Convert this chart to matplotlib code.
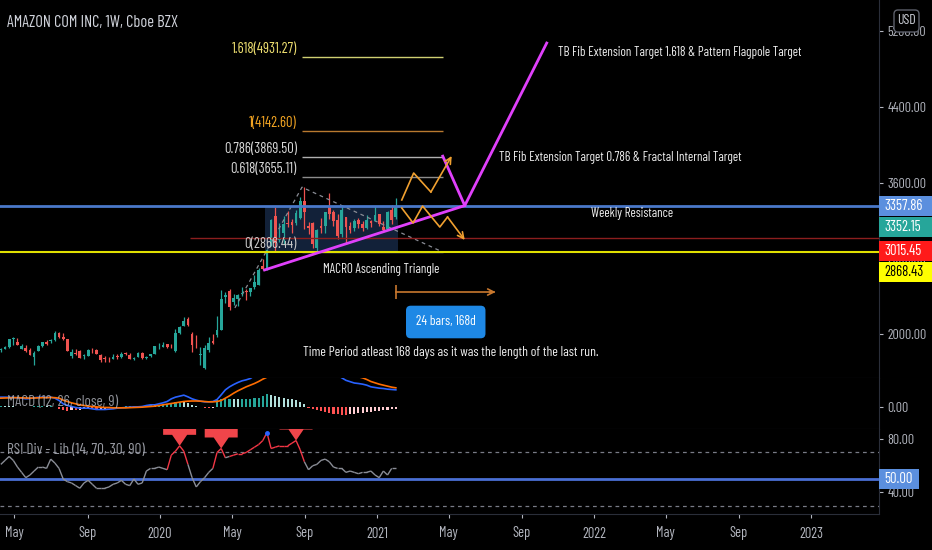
import numpy as np
import pandas as pd
import matplotlib
matplotlib.use('agg')
import matplotlib.pyplot as plt
import matplotlib.dates as mdates
from matplotlib.patches import Rectangle, Polygon, FancyBboxPatch
from matplotlib.collections import LineCollection
from matplotlib.transforms import IdentityTransform

plt.rcParams['font.family'] = ['Barlow Condensed', 'DejaVu Sans']

W, H = 932, 550
BG = '#000000'
SEP = '#2a2e39'
AXTXT = '#b2b5be'
UP = '#26a69a'
DOWN = '#ef5350'
FS = 9.4

# ---- weekly candles, AMZN, from week of 2019-04-08 ----
week_start = '2019-04-08'
opens = [1828, 1843, 1860, 1949, 1917, 1839, 1852, 1831, 1760, 1822, 1876, 1912, 1922, 1934, 2010, 1971, 1949, 1770, 1795, 1818,
         1767, 1770, 1842, 1835, 1777, 1746, 1733, 1736, 1765, 1762, 1801, 1778, 1738, 1753, 1804, 1750, 1767, 1793, 1874,
         1861, 1891, 1865, 1820, 2010, 2085, 2155, 2003, 1907, 1773, 1641, 1827, 1922, 1990, 2040, 2390, 2450, 2336, 2375, 2425,
         2455, 2448, 2500, 2515, 2722, 2685, 2935, 3251, 2998, 3063, 3173, 3187, 3173, 3229, 3409, 3144, 3172, 2907, 3144, 3145,
         3350, 3292, 3208, 3062, 3232, 3142, 3118, 3208, 3158, 3124, 3200, 3194,
         3270, 3128, 3107, 3310, 3242]
highs = [1850, 1870, 1951, 1964, 1959, 1892, 1885, 1849, 1820, 1884, 1918, 1935, 1951, 2035, 2024, 2010, 1952, 1839, 1843, 1833,
         1789, 1840, 1853, 1838, 1793, 1766, 1757, 1788, 1789, 1813, 1815, 1801, 1762, 1808, 1805, 1769, 1792, 1870, 1903,
         1917, 1898, 1895, 2055, 2085, 2180, 2185, 2017, 1993, 1863, 1879, 1968, 2001, 2187, 2461, 2444, 2475, 2420, 2420, 2500,
         2473, 2488, 2621, 2700, 2795, 2903, 3220, 3344, 3174, 3246, 3305, 3217, 3315, 3451, 3552, 3188, 3188, 3115, 3227, 3288,
         3496, 3306, 3264, 3367, 3233, 3189, 3216, 3228, 3190, 3263, 3210, 3351,
         3272, 3190, 3304, 3363, 3434]
lows = [1811, 1840, 1856, 1887, 1880, 1838, 1814, 1773, 1672, 1818, 1866, 1880, 1904, 1924, 1958, 1937, 1816, 1748, 1777, 1748,
        1739, 1768, 1803, 1785, 1705, 1705, 1705, 1733, 1740, 1743, 1782, 1738, 1722, 1753, 1738, 1734, 1761, 1791, 1843,
        1860, 1856, 1857, 1815, 2002, 2082, 2088, 1811, 1848, 1674, 1626, 1812, 1890, 1973, 2040, 2326, 2256, 2306, 2298, 2404,
        2356, 2401, 2475, 2515, 2680, 2680, 2930, 2871, 2970, 2951, 3127, 3073, 3150, 3218, 3110, 3061, 2905, 2871, 3071, 3070,
        3221, 3147, 3002, 3030, 2950, 3072, 3085, 3126, 3085, 3105, 3130, 3193,
        3144, 3086, 3107, 3159, 3220]
closes = [1843, 1861, 1950, 1962, 1889, 1870, 1823, 1775, 1804, 1870, 1911, 1893, 1942, 2011, 1965, 1943, 1823, 1807, 1792, 1749,
          1777, 1833, 1839, 1794, 1725, 1739, 1731, 1757, 1761, 1791, 1785, 1739, 1745, 1800, 1751, 1760, 1786, 1869, 1875,
          1883, 1864, 1861, 2008, 2079, 2134, 2095, 1883, 1902, 1785, 1847, 1900, 1906, 2042, 2375, 2410, 2286, 2380, 2409, 2436,
          2443, 2483, 2546, 2675, 2692, 2890, 3200, 2961, 3008, 3164, 3167, 3148, 3284, 3401, 3294, 3116, 2954, 3095, 3125, 3286,
          3272, 3195, 3036, 3312, 3128, 3099, 3195, 3162, 3116, 3202, 3172, 3257,
          3163, 3104, 3292, 3206, 3352]

# ---- MACD (12, 26, close, 9) ----
macd_line = [56, 56, 55, 54, 52, 50, 46, 48, 52, 55, 56, 54, 56, 50, 36, 16, 6, 0, -6, -10,
             -10, -10, -14, -18, -18, -18, -16, -14, -10, -8, -6, -4, -2, -2, 0, 6, 10, 10, 16, 22,
             30, 46, 56, 62, 68, 58, 46, 38, 32, 28, 28, 30, 42, 70, 100, 118, 132, 144, 154, 160,
             168, 185, 210, 240, 270, 290, 310, 325, 335, 340, 345, 345, 340, 330, 310, 290, 275, 260, 245, 225,
             208, 190, 172, 157, 149, 141, 138, 134, 128, 118, 114, 110, 108, 104, 102, 100]
signal_line = [50, 51, 52, 53, 53, 52, 51, 50, 51, 52, 53, 53, 54, 53, 50, 38, 30, 22, 16, 10,
               6, 2, 0, -2, -4, -6, -6, -8, -8, -8, -8, -7, -6, -5, -4, -2, 0, 2, 6, 10,
               14, 18, 22, 26, 30, 32, 33, 33, 32, 30, 28, 28, 30, 36, 50, 64, 80, 94, 106, 118,
               128, 138, 150, 164, 176, 190, 205, 225, 245, 265, 285, 300, 312, 318, 320, 306, 297, 288, 277, 261,
               250, 236, 220, 205, 195, 185, 178, 172, 162, 150, 142, 134, 128, 122, 116, 112]
macd_hist = [6, 5, 3, 1, -1, -2, -5, -2, 1, 3, 3, 1, 2, -3, -14, -22, -24, -22, -22, -20,
             -16, -12, -14, -16, -14, -12, -10, -6, -2, 0, 2, 3, 4, 3, 4, 8, 10, 8, 10, 12,
             16, 24, 28, 30, 28, 22, 12, 4, -4, -8, -8, -6, 40, 46, 48, 48, 46, 44, 46, 46,
             48, 50, 52, 62, 74, 68, 64, 60, 52, 48, 46, 40, 30, 14, -10, -16, -22, -28, -32, -36,
             -42, -46, -48, -48, -46, -44, -40, -38, -34, -32, -28, -24, -20, -18, -14, -12]

# ---- RSI Div - Lib (14, 70, 30, 90) ----
rsi = [61, 64, 67, 64, 59, 55, 51, 53, 56, 59, 59, 58, 65, 62, 58, 50, 48, 47, 45, 43,
       47, 49, 46, 43, 43, 43, 44, 46, 47, 49, 46, 45, 50, 46, 47, 56, 58, 58, 59, 58,
       57, 68, 71, 75, 71, 61, 51, 44, 48, 51, 55, 58, 70, 73, 66, 67, 68, 69, 69, 70,
       72, 74, 76, 79, 85, 73, 74, 75, 75, 75, 77, 79, 72, 63, 57, 60, 61, 64, 65, 63,
       59, 58, 58, 55, 56, 55, 54, 55, 55, 56, 53, 51, 56, 53, 58, 58]
bear_idx = [43, 53, 71]
bull_dot_idx = 64

# ---- drawings ----
resistance = 3357.86
last_price = 3352.15
red_level = 3015.45
yellow_level = 2868.43
red_start = '2020-02-20'
rect_start, rect_end = '2020-06-25', '2021-02-05'

fib_names = ['0', '0.618', '0.786', '1', '1.618']
fib_values = [2866.44, 3655.11, 3869.50, 4142.60, 4931.27]
fib_line_colors = ['#787b86', '#8c8c8c', '#b0b0b0', '#b8792f', '#cfcf72']
fib_text_colors = ['#c8c8c8', '#d6d6d6', '#d6d6d6', '#f5a623', '#efe070']
fib_start, fib_end = '2020-08-27', '2021-04-21'
fib_anchor_dates = ['2020-05-06', '2020-08-27', '2021-04-21']
fib_anchor_prices = [2276, 3552, 2866.44]

tri_start, tri_low = '2020-06-25', 2677
apex = '2021-05-28'
path_dates = ['2021-04-21', apex, '2021-10-13']
path_prices = [3880, resistance, 5076]

zig_up_dates = ['2021-02-11', '2021-03-03', '2021-04-01', '2021-05-06']
zig_up_prices = [3417, 3702, 3501, 3882]
zig_dn_dates = ['2021-02-11', '2021-03-02', '2021-03-18', '2021-04-16', '2021-04-29', '2021-05-28']
zig_dn_prices = [3332, 3174, 3353, 3131, 3237, 2994]

range_start, range_days, range_price = '2021-02-01', 168, 2444
range_box_price = 2127

tick_dates = ['2019-05-01', '2019-09-01', '2020-01-01', '2020-05-01', '2020-09-01', '2021-01-01',
              '2021-05-01', '2021-09-01', '2022-01-01', '2022-05-01', '2022-09-01', '2023-01-01']
tick_labels = ['May', 'Sep', '2020', 'May', 'Sep', '2021', 'May', 'Sep', '2022', 'May', 'Sep', '2023']
price_ticks = [2000, 2800, 3600, 4400, 5200]


def dn(s):
    return mdates.date2num(pd.Timestamp(s))


def box(top, bottom, right=879):
    return [0, 1 - bottom / H, right / W, (bottom - top) / H]


fig = plt.figure(figsize=(W / 100, H / 100), dpi=100, facecolor=BG)
ax = fig.add_axes(box(0, 378))
ax_macd = fig.add_axes(box(378, 429), sharex=ax)
ax_rsi = fig.add_axes(box(429, 514), sharex=ax)

for a in (ax, ax_macd, ax_rsi):
    a.set_facecolor(BG)
    a.spines['left'].set_visible(False)
    a.spines['top'].set_visible(False)
    a.spines['right'].set_color(SEP)
    a.spines['bottom'].set_color(SEP)
    a.yaxis.tick_right()
    a.tick_params(axis='y', colors=AXTXT, labelsize=10, length=3, width=0.8, pad=3)
    a.tick_params(axis='x', bottom=False, labelbottom=False)

base = dn('2020-01-01')
ax.set_xlim(base - 269.4, base + 1210.4)
ax.set_ylim(1535, 5531)
ax_macd.set_ylim(-135, 171)
ax_rsi.set_ylim(23.6, 87.7)

ax.set_yticks(price_ticks)
ax.set_yticklabels(['%.2f' % v for v in price_ticks])
ax_macd.set_yticks([0])
ax_macd.set_yticklabels(['0.00'])
ax_rsi.set_yticks([40, 80])
ax_rsi.set_yticklabels(['40.00', '80.00'])

ax_rsi.set_xticks([dn(t) for t in tick_dates])
ax_rsi.set_xticklabels(tick_labels)
ax_rsi.tick_params(axis='x', bottom=True, labelbottom=True, colors=AXTXT, labelsize=10.4, length=3, pad=6)

# candles
x = mdates.date2num(pd.date_range(week_start, periods=len(closes), freq='7D'))
o, hi, lo, c = map(np.array, (opens, highs, lows, closes))
col = np.where(c >= o, UP, DOWN)
ax.vlines(x, lo, hi, colors=col, lw=0.9, zorder=3)
ax.bar(x, np.maximum(np.abs(c - o), 4), bottom=np.minimum(o, c), width=4.6, color=col, zorder=4)

# triangle zone
ax.add_patch(Rectangle((dn(rect_start), fib_values[0]), dn(rect_end) - dn(rect_start),
                       resistance - fib_values[0], fc='#2a4a80', alpha=0.45, ec='none', zorder=2))

# levels
ax.hlines(red_level, dn(red_start), ax.get_xlim()[1], color='#8b1e1e', lw=1, zorder=5)
ax.axhline(yellow_level, color='#e0e000', lw=1.5, zorder=5)
ax.axhline(resistance, color='#4a78c8', lw=2, zorder=5)

# trend based fib extension
ax.plot([dn(d) for d in fib_anchor_dates], fib_anchor_prices, ls=(0, (3, 3)), color='#8a8d96', lw=0.9, zorder=3)
for name, val, lc, tc in zip(fib_names, fib_values, fib_line_colors, fib_text_colors):
    ax.hlines(val, dn(fib_start), dn(fib_end), color=lc, lw=1, zorder=4)
    ax.annotate('%s(%.2f)' % (name, val), xy=(dn(fib_start), val), xytext=(-5, 8),
                textcoords='offset pixels', ha='right', va='center', color=tc, fontsize=10.6, zorder=6)

# purple projection
ax.plot([dn(tri_start), dn(apex)], [tri_low, resistance], color='#e040fb', lw=2, zorder=6)
ax.plot([dn(d) for d in path_dates], path_prices, color='#e040fb', lw=2, zorder=6)

# orange fractal zigzags
for ds, ps in ((zig_up_dates, zig_up_prices), (zig_dn_dates, zig_dn_prices)):
    xs = [dn(d) for d in ds]
    ax.plot(xs[:-1], ps[:-1], color='#f0a030', lw=1.2, zorder=6)
    ax.annotate('', xy=(xs[-1], ps[-1]), xytext=(xs[-2], ps[-2]),
                arrowprops=dict(arrowstyle='->', color='#f0a030', lw=1.2, shrinkA=0, shrinkB=0,
                                mutation_scale=11), zorder=6)

# date range
r0 = dn(range_start)
r1 = r0 + range_days
ax.plot([r0, r1 - 2], [range_price, range_price], color='#c8782e', lw=1.2, zorder=6)
ax.plot([r0], [range_price], marker='|', ms=10, mew=1.2, color='#c8782e', zorder=6)
ax.annotate('', xy=(r1, range_price), xytext=(r1 - 10, range_price),
            arrowprops=dict(arrowstyle='->', color='#c8782e', lw=1.2, shrinkA=0, shrinkB=0, mutation_scale=11))
ax.text((r0 + r1) / 2, range_box_price, '%d bars, %dd' % (range_days // 7, range_days),
        ha='center', va='center', color='white', fontsize=FS + 0.4, zorder=7,
        bbox=dict(boxstyle='round,pad=0.72,rounding_size=0.35', fc='#1e88e5', ec='none'))

# notes
txt = dict(color='#f0f0f0', fontsize=FS, va='center', ha='left', zorder=7)
ax.text(dn('2021-11-01'), 4981, 'TB Fib Extension Target 1.618 & Pattern Flagpole Target', **txt)
ax.text(dn('2021-07-24'), 3871, 'TB Fib Extension Target 0.786 & Fractal Internal Target', **txt)
ax.text(dn('2021-12-26'), 3269, 'Weekly Resistance', **txt)
ax.text(dn('2020-10-01'), 2677, 'MACRO Ascending Triangle', **txt)
ax.text(dn('2020-08-28'), 1800, 'Time Period atleast 168 days as it was the length of the last run.',
        **dict(txt, fontsize=FS + 0.5))

ax.text(0.008, 1 - 22 / 378, 'AMAZON COM INC, 1W, Cboe BZX', transform=ax.transAxes,
        color='#d1d4dc', fontsize=11.8, va='center', ha='left')

# MACD pane
hcol = []
for i, v in enumerate(macd_hist):
    prev = macd_hist[i - 1] if i else v
    if v >= 0:
        hcol.append('#26a69a' if v >= prev else '#b2dfdb')
    else:
        hcol.append('#ff5252' if v <= prev else '#ffcdd2')
ax_macd.bar(x, macd_hist, width=3.6, color=hcol, zorder=2)
ax_macd.plot(x, macd_line, color='#2962ff', lw=1.2, zorder=3)
ax_macd.plot(x, signal_line, color='#ff6d00', lw=1.2, zorder=3)
ax_macd.text(0.008, 0.53, 'MACD (12, 26, close, 9)', transform=ax_macd.transAxes,
             color='#b2b5be', alpha=0.8, fontsize=11, va='center', ha='left', zorder=4)

# RSI pane
ax_rsi.axhline(70, ls=(0, (3, 3)), color='#787b86', lw=0.9)
ax_rsi.axhline(30, ls=(0, (3, 3)), color='#787b86', lw=0.9)
ax_rsi.axhline(50, color='#4a6fd4', lw=2)
pts = np.column_stack([x, rsi])
segs = np.stack([pts[:-1], pts[1:]], axis=1)
seg_col = ['#f23645' if max(rsi[i], rsi[i + 1]) > 67 else '#8a8d96' for i in range(len(rsi) - 1)]
ax_rsi.add_collection(LineCollection(segs, colors=seg_col, linewidths=1, zorder=3))
ax_rsi.plot([x[bull_dot_idx]], [rsi[bull_dot_idx]], 'o', ms=2.5, color='#2962ff', zorder=4)
for i in bear_idx:
    tx, ty = ax_rsi.transData.transform((x[i], rsi[i]))
    offs = [(0, 0), (-7.5, 11), (-16.5, 11), (-16.5, 40), (16.5, 40), (16.5, 11), (7.5, 11)]
    verts = ax_rsi.transData.inverted().transform([(tx + dx, ty + dy) for dx, dy in offs])
    ax_rsi.add_patch(Polygon(verts, closed=True, fc='#f0454a', ec='none', zorder=6))
ax_rsi.text(0.008, 0.753, 'RSI Div - Lib (14, 70, 30, 90)', transform=ax_rsi.transAxes,
            color='#b2b5be', alpha=0.85, fontsize=11, va='center', ha='left', zorder=4)


# price tags on the right scale
def tag(a, value, fc, tc='white', shift=0, width=53):
    y = a.transData.transform((0, value))[1] - shift
    fig.add_artist(Rectangle((879, y - 10), width, 20, transform=IdentityTransform(),
                             fc=fc, ec='none', zorder=10))
    fig.text(884, y, '%.2f' % value, transform=IdentityTransform(), color=tc,
             fontsize=10.6, va='center', ha='left', zorder=11)


tag(ax, resistance, '#5b8fde')
tag(ax, last_price, '#26a69a', shift=21)
tag(ax, red_level, '#ff1a1a', shift=13)
tag(ax, yellow_level, '#ffff00', tc='black', shift=20)
tag(ax_rsi, 50, '#5b8fde', width=40)

fig.add_artist(FancyBboxPatch((894, H - 32), 25, 22, boxstyle='round,pad=0,rounding_size=4',
                              transform=IdentityTransform(), fc='black', ec='#5d606b', lw=1, zorder=10))
fig.text(906.5, H - 21, 'USD', transform=IdentityTransform(), color='#d1d4dc',
         fontsize=FS + 0.6, ha='center', va='center', zorder=11)

plt.savefig('out.png', dpi=100, facecolor=BG)
plt.close()
